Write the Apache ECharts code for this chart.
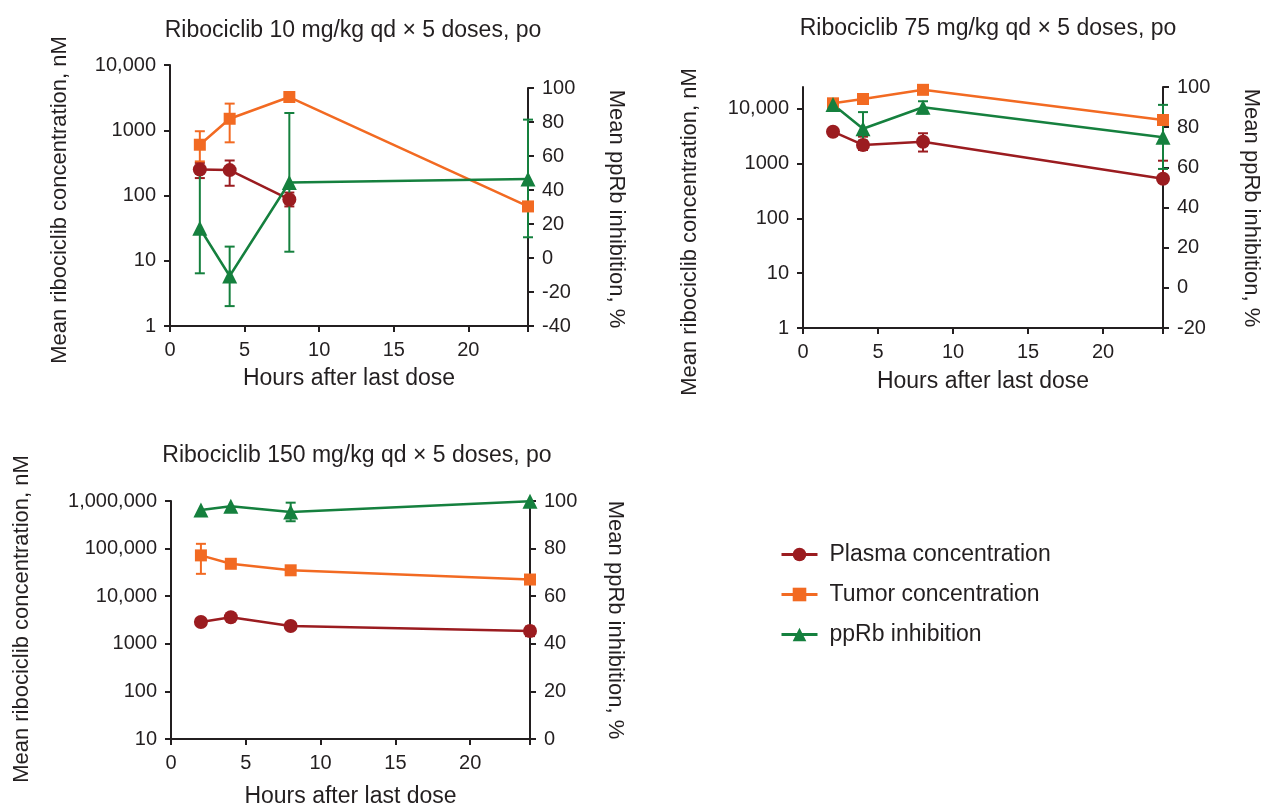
<!DOCTYPE html>
<html>
<head>
<meta charset="utf-8">
<script src="https://cdn.jsdelivr.net/npm/echarts@6/dist/echarts.min.js"></script>
<style>
html, body { margin: 0; padding: 0; background: #fff; }
#chart { width: 1270px; height: 808px; }
</style>
</head>
<body>
<div id="chart"></div>
<script>
// sampling times (h after last dose)
var hours = [2, 4, 8, 24];
var seriesNames = ['Plasma concentration', 'Tumor concentration', 'ppRb inhibition'];
var panelTitles = [
  'Ribociclib 10 mg/kg qd \u00d7 5 doses, po',
  'Ribociclib 75 mg/kg qd \u00d7 5 doses, po',
  'Ribociclib 150 mg/kg qd \u00d7 5 doses, po'
];
var xTicks = [0, 5, 10, 15, 20];

// 10 mg/kg
var plasma10 = [250, 245, 87, null];
var plasma10Lo = [185, 141, 68, null];
var plasma10Hi = [316, 344, 111, null];
var tumor10 = [600, 1500, 3230, 68];
var tumor10Lo = [333, 653, null, null];
var tumor10Hi = [966, 2560, null, null];
var pprb10 = [17.5, -10.6, 44.4, 46.4];
var pprb10Lo = [-9, -28.3, 3.7, 12.2];
var pprb10Hi = [50, 6.7, 85.3, 81.4];
var concTicks10 = [1, 10, 100, 1000, 10000];
var pctTicks10 = [-40, -20, 0, 20, 40, 60, 80, 100];

// 75 mg/kg
var plasma75 = [3820, 2190, 2510, 530];
var plasma75Lo = [null, 1770, 1660, null];
var plasma75Hi = [null, 3100, 3580, 1130];
var tumor75 = [12600, 15100, 22200, 6250];
var tumor75Lo = [null, null, null, 5300];
var tumor75Hi = [null, null, null, 7200];
var pprb75 = [91.3, 79.2, 89.9, 75];
var pprb75Lo = [null, 73.3, 86.8, 59.2];
var pprb75Hi = [null, 87.5, 92.9, 91.1];
var concTicks75 = [1, 10, 100, 1000, 10000];
var pctTicks75 = [-20, 0, 20, 40, 60, 80, 100];

// 150 mg/kg
var plasma150 = [2880, 3620, 2370, 1860];
var plasma150Lo = [null, null, null, 1450];
var plasma150Hi = [null, null, null, 2300];
var tumor150 = [72000, 48000, 35000, 22400];
var tumor150Lo = [29500, null, null, null];
var tumor150Hi = [126000, null, null, null];
var pprb150 = [96.2, 97.8, 95.4, 99.9];
var pprb150Lo = [null, null, 91.5, null];
var pprb150Hi = [null, null, 99.3, null];
var concTicks150 = [10, 100, 1000, 10000, 100000, 1000000];
var pctTicks150 = [0, 20, 40, 60, 80, 100];

var colors = ['#9b1c20', '#f26a22', '#15803e'];
var ink = '#231f20';
var font = '"Liberation Sans", Arial, sans-serif';

var panels = [
  { left: 170, width: 358, topL: 65, hL: 261, topR: 88, hR: 238, concMax: 10000,
    titleX: 348, titleY: 14, nameL: [60, 200], nameR: [616, 209], xGap: 41,
    conc: concTicks10, pct: pctTicks10,
    data: [[plasma10, plasma10Lo, plasma10Hi], [tumor10, tumor10Lo, tumor10Hi], [pprb10, pprb10Lo, pprb10Hi]] },
  { left: 803, width: 360, topL: 87, hL: 241, topR: 87, hR: 241, concMax: 25000,
    titleX: 983, titleY: 12, nameL: [690, 232], nameR: [1251, 208], xGap: 42,
    conc: concTicks75, pct: pctTicks75,
    data: [[plasma75, plasma75Lo, plasma75Hi], [tumor75, tumor75Lo, tumor75Hi], [pprb75, pprb75Lo, pprb75Hi]] },
  { left: 171, width: 359, topL: 501, hL: 238, topR: 501, hR: 238, concMax: 1000000,
    titleX: 352, titleY: 439, nameL: [22, 619], nameR: [615, 620], xGap: 46,
    conc: concTicks150, pct: pctTicks150,
    data: [[plasma150, plasma150Lo, plasma150Hi], [tumor150, tumor150Lo, tumor150Hi], [pprb150, pprb150Lo, pprb150Hi]] }
];

function fmtConc(t) {
  return t >= 10000 ? t.toLocaleString('en-US') : String(t);
}

function errSeries(xi, yi, color, mean, lo, hi) {
  var rows = [];
  hours.forEach(function (h, i) {
    if (lo[i] == null && hi[i] == null) return;
    rows.push([h, lo[i] != null ? lo[i] : mean[i], hi[i] != null ? hi[i] : mean[i]]);
  });
  return {
    type: 'custom', xAxisIndex: xi, yAxisIndex: yi, silent: true, z: 3,
    data: rows,
    encode: { x: 0, y: [1, 2] },
    renderItem: function (params, api) {
      var x = api.value(0);
      var a = api.coord([x, api.value(1)]);
      var b = api.coord([x, api.value(2)]);
      var w = 5;
      var st = { stroke: color, lineWidth: 2 };
      return { type: 'group', children: [
        { type: 'line', shape: { x1: a[0], y1: a[1], x2: b[0], y2: b[1] }, style: st },
        { type: 'line', shape: { x1: a[0] - w, y1: a[1], x2: a[0] + w, y2: a[1] }, style: st },
        { type: 'line', shape: { x1: b[0] - w, y1: b[1], x2: b[0] + w, y2: b[1] }, style: st }
      ] };
    }
  };
}

var axisLine = { onZero: false, lineStyle: { color: ink, width: 2 } };
var axisTick = { length: 6, lineStyle: { color: ink, width: 2 } };

var grids = [], xAxes = [], yAxes = [], series = [], titles = [], graphics = [];
var symbols = ['circle', 'rect', 'triangle'];
var symbolSizes = [14, 12, 15];

panels.forEach(function (p, k) {
  var gl = 2 * k, gr = 2 * k + 1;
  grids.push({ left: p.left, top: p.topL, width: p.width, height: p.hL, outerBoundsMode: 'none' });
  grids.push({ left: p.left, top: p.topR, width: p.width, height: p.hR, outerBoundsMode: 'none' });

  xAxes.push({
    type: 'value', gridIndex: gl, min: 0, max: 24, interval: 5,
    name: 'Hours after last dose', nameLocation: 'middle', nameGap: p.xGap,
    nameTextStyle: { fontSize: 23, color: ink, fontFamily: font },
    axisLine: axisLine, axisTick: axisTick, splitLine: { show: false },
    axisLabel: { fontSize: 20, color: ink, fontFamily: font, margin: 14,
      formatter: function (v) { return xTicks.indexOf(v) >= 0 ? String(v) : ''; } }
  });
  xAxes.push({ type: 'value', gridIndex: gr, min: 0, max: 24, show: false });

  var ticks = p.conc;
  yAxes.push({
    type: 'log', logBase: 10, gridIndex: gl, position: 'left',
    min: ticks[0], max: p.concMax,
    axisLine: axisLine,
    axisTick: { length: 6, lineStyle: { color: ink, width: 2 }, customValues: ticks },
    splitLine: { show: false }, minorTick: { show: false },
    axisLabel: { fontSize: 20, color: ink, fontFamily: font, margin: 14, customValues: ticks,
      formatter: function (v) {
        for (var i = 0; i < ticks.length; i++) {
          if (Math.abs(ticks[i] - v) / ticks[i] < 1e-6) return fmtConc(ticks[i]);
        }
        return '';
      } }
  });
  yAxes.push({
    type: 'value', gridIndex: gr, position: 'right',
    min: p.pct[0], max: p.pct[p.pct.length - 1], interval: 20,
    axisLine: axisLine, axisTick: axisTick, splitLine: { show: false },
    axisLabel: { fontSize: 20, color: ink, fontFamily: font, margin: 14 }
  });

  p.data.forEach(function (d, s) {
    var xi = s === 2 ? gr : gl;
    var pts = [];
    hours.forEach(function (h, i) { if (d[0][i] != null) pts.push([h, d[0][i]]); });
    series.push(errSeries(xi, xi, colors[s], d[0], d[1], d[2]));
    series.push({
      name: seriesNames[s], type: 'line', xAxisIndex: xi, yAxisIndex: xi,
      data: pts, symbol: symbols[s], symbolSize: symbolSizes[s], showAllSymbol: true,
      itemStyle: { color: colors[s] }, lineStyle: { color: colors[s], width: 2.5 },
      z: 4
    });
  });

  titles.push({
    text: panelTitles[k], left: p.titleX, top: p.titleY, textAlign: 'center',
    textStyle: { fontSize: 23, fontWeight: 'normal', color: ink, fontFamily: font }
  });
  graphics.push({
    type: 'text', x: p.nameL[0], y: p.nameL[1], rotation: Math.PI / 2,
    style: { text: 'Mean ribociclib concentration, nM', fill: ink, font: '22px ' + font,
      align: 'center', verticalAlign: 'middle' }
  });
  graphics.push({
    type: 'text', x: p.nameR[0], y: p.nameR[1], rotation: -Math.PI / 2,
    style: { text: 'Mean ppRb inhibition, %', fill: ink, font: '22px ' + font,
      align: 'center', verticalAlign: 'middle' }
  });
});

var chart = echarts.init(document.getElementById('chart'));
chart.setOption({
  animation: false,
  backgroundColor: '#fff',
  title: titles,
  grid: grids,
  xAxis: xAxes,
  yAxis: yAxes,
  series: series,
  graphic: graphics,
  legend: {
    data: seriesNames, orient: 'vertical', left: 775, top: 538,
    itemWidth: 36, itemHeight: 17, itemGap: 17,
    lineStyle: { width: 3 },
    textStyle: { fontSize: 23, color: ink, fontFamily: font, padding: [0, 0, 0, 7] }
  }
});
</script>
</body>
</html>
